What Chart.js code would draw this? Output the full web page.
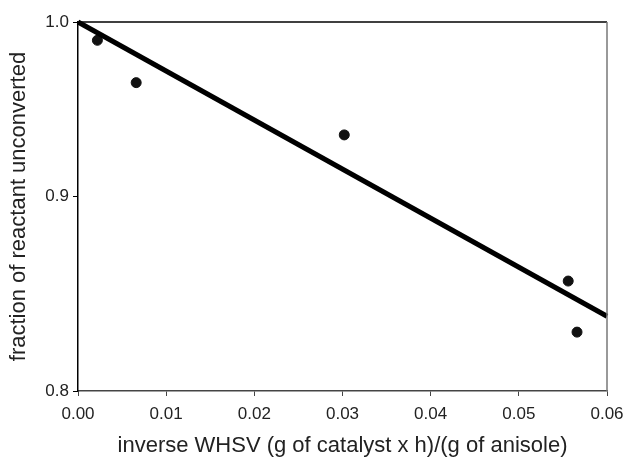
<!DOCTYPE html>
<html>
<head>
<meta charset="utf-8">
<script src="https://cdn.jsdelivr.net/npm/chart.js@4.4.1/dist/chart.umd.min.js"></script>
<style>
  html, body { margin: 0; padding: 0; background: #fff; }
  #wrap { width: 630px; height: 457px; }
</style>
</head>
<body>
<div id="wrap"><canvas id="chart" width="630" height="457"></canvas></div>
<script>
// datos
const invWhsv = [0.0022, 0.0066, 0.0302, 0.0556, 0.0566];
const fraction = [0.989, 0.964, 0.934, 0.855, 0.829];
const fitX = [0, 0.06];
const fitY = [1.0, 0.837];
const xTicks = [0, 0.01, 0.02, 0.03, 0.04, 0.05, 0.06];
const yTicks = [0.8, 0.9, 1.0];

const tickFont = { family: "'Liberation Sans', Arial, sans-serif", size: 17 };
const titleFont = { family: "'Liberation Sans', Arial, sans-serif", size: 22, lineHeight: 1 };

// borde superior y derecho del area del grafico
const boxPlugin = {
    id: 'box',
    afterDraw(chart) {
        const a = chart.chartArea;
        const ctx = chart.ctx;
        ctx.save();
        ctx.lineWidth = 1.5;
        ctx.strokeStyle = '#000';
        ctx.beginPath();
        ctx.moveTo(a.left, a.top);
        ctx.lineTo(a.right, a.top);
        ctx.stroke();
        ctx.strokeStyle = '#777';
        ctx.beginPath();
        ctx.moveTo(a.right, a.top);
        ctx.lineTo(a.right, a.bottom);
        ctx.stroke();
        ctx.restore();
    }
};

new Chart(document.getElementById('chart').getContext('2d'), {
    type: 'scatter',
    data: {
        datasets: [{
            label: 'fit',
            type: 'line',
            data: fitX.map((x, i) => ({ x: x, y: fitY[i] })),
            borderColor: '#000',
            borderWidth: 5,
            pointRadius: 0,
            clip: false
        }, {
            label: 'data',
            data: invWhsv.map((x, i) => ({ x: x, y: fraction[i] })),
            backgroundColor: '#111',
            borderColor: '#111',
            pointRadius: 5
        }]
    },
    options: {
        responsive: false,
        animation: false,
        layout: { padding: { top: 22, right: 23, left: 0, bottom: 0 } },
        plugins: { legend: { display: false }, tooltip: { enabled: false } },
        scales: {
            x: {
                type: 'linear',
                min: 0,
                max: 0.06,
                afterBuildTicks: s => { s.ticks = xTicks.map(v => ({ value: v })); },
                ticks: {
                    color: '#222',
                    font: tickFont,
                    padding: 8,
                    maxRotation: 0,
                    callback: v => v.toFixed(2)
                },
                grid: { drawOnChartArea: false, tickLength: 5, color: '#444' },
                border: { color: '#444', width: 1.5 },
                title: { display: true, text: 'inverse WHSV (g of catalyst x h)/(g of anisole)', color: '#222', font: titleFont, padding: { top: 0, bottom: 0 } },
                afterFit: s => { s.height = 66; s.paddingRight = 0; s.paddingLeft = 0; }
            },
            y: {
                type: 'logarithmic',
                min: 0.8,
                max: 1.0,
                afterBuildTicks: s => { s.ticks = yTicks.map(v => ({ value: v })); },
                ticks: {
                    color: '#222',
                    font: tickFont,
                    padding: 4,
                    callback: v => v.toFixed(1)
                },
                grid: { drawOnChartArea: false, tickLength: 5, color: '#000' },
                border: { color: '#000', width: 1.5 },
                title: { display: true, text: 'fraction of reactant unconverted', color: '#222', font: titleFont, padding: { top: 8, bottom: 0 } },
                afterFit: s => { s.width = 78; s.paddingTop = 0; s.paddingBottom = 0; }
            }
        }
    },
    plugins: [boxPlugin]
});
</script>
</body>
</html>
